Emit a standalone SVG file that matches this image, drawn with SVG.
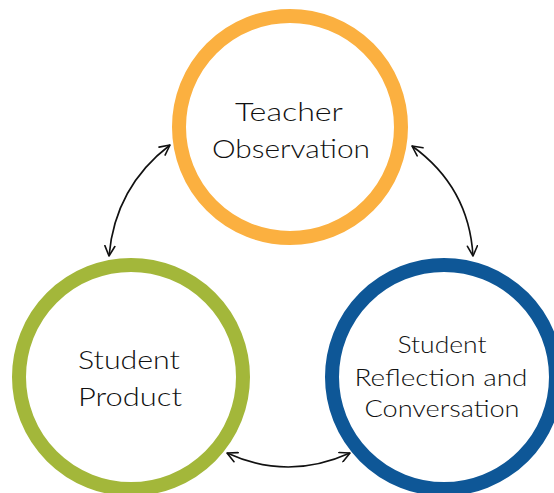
<svg xmlns="http://www.w3.org/2000/svg" width="554" height="493" viewBox="0 0 554 493">
<defs>
<marker id="arr" viewBox="0 0 12 12" refX="11" refY="6" markerWidth="12" markerHeight="12" markerUnits="userSpaceOnUse" orient="auto-start-reverse">
<path d="M1,1 L11,6 L1,11" fill="none" stroke="#111" stroke-width="1.6" stroke-linecap="round" stroke-linejoin="round"/>
</marker>
</defs>
<style>
.ring{fill:#fff;stroke-width:14}
.t{font-family:Lato,"Liberation Sans",sans-serif;font-weight:300;fill:#111;text-anchor:middle}
.big{font-size:26px}
.small{font-size:23px}
.conn{fill:none;stroke:#111;stroke-width:1.6;marker-start:url(#arr);marker-end:url(#arr)}
</style>
<rect width="554" height="493" fill="#fff"/>
<g id="teacher-observation">
<circle class="ring" cx="290" cy="127" r="111" stroke="#FBB040"/>
<text class="t big" x="289" y="121" textLength="108" lengthAdjust="spacingAndGlyphs">Teacher</text>
<text class="t big" x="291" y="158" textLength="158" lengthAdjust="spacingAndGlyphs">Observation</text>
</g>
<g id="student-product">
<circle class="ring" cx="131" cy="377" r="112" stroke="#A3B73A"/>
<text class="t big" x="129" y="369" textLength="102" lengthAdjust="spacingAndGlyphs">Student</text>
<text class="t big" x="130" y="406" textLength="104" lengthAdjust="spacingAndGlyphs">Product</text>
</g>
<g id="student-reflection">
<circle class="ring" cx="444" cy="377" r="112" stroke="#0E5797"/>
<text class="t small" x="442" y="353" textLength="89" lengthAdjust="spacingAndGlyphs">Student</text>
<text class="t small" x="441" y="386" textLength="173" lengthAdjust="spacingAndGlyphs">Reflection and</text>
<text class="t small" x="442" y="417" textLength="155" lengthAdjust="spacingAndGlyphs">Conversation</text>
</g>
<g id="connectors">
<path class="conn" d="M109,256 Q115,187 170,145"/>
<path class="conn" d="M412,146 Q469,187 473,256"/>
<path class="conn" d="M227,453 Q288,481 350,453"/>
</g>
</svg>
